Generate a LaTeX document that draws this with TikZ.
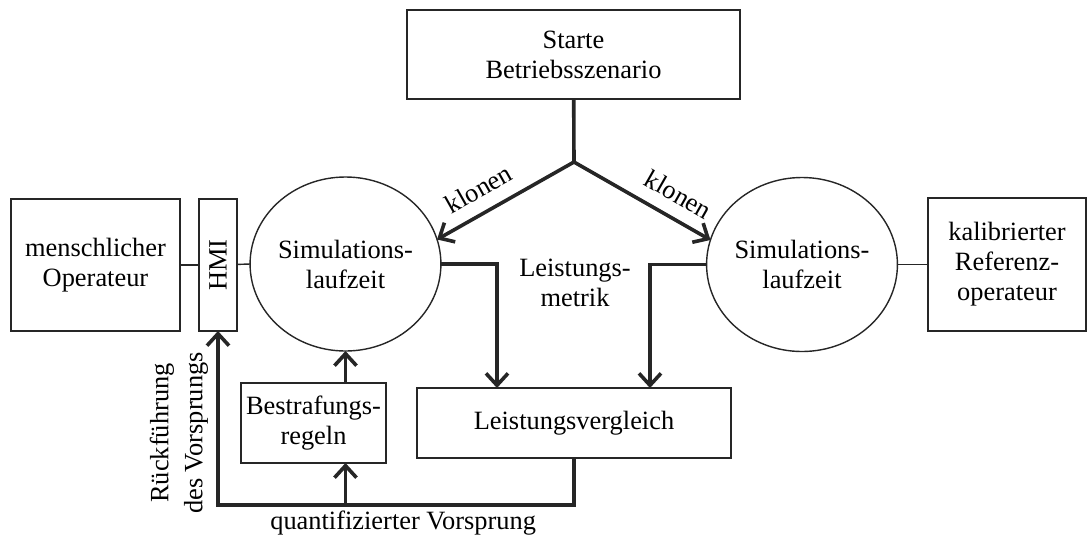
\documentclass[tikz,border=0pt]{standalone}
\usepackage{fontspec}
\setmainfont{Liberation Serif}
\usepackage{graphicx}
\usepackage{tikz}
\usetikzlibrary{arrows.meta,shapes.geometric}

\begin{document}
\begin{tikzpicture}[x=0.5pt,y=-0.5pt,
  font=\fontsize{13.2}{15}\selectfont,
  box/.style={draw=black!85, line width=0.7pt, align=center, inner sep=0pt, outer sep=0pt},
  sim/.style={ellipse, draw=black!85, line width=0.7pt, align=center, inner sep=0pt, outer sep=0pt,
    minimum width=92.5pt, minimum height=87pt},
  link/.style={draw=black!85, line width=0.7pt},
  flow/.style={draw=black!85, line width=1.8pt, -{Straight Barb[length=6pt,width=11pt]}}]

\useasboundingbox (0,0) rectangle (1087,537);

\node[box, minimum width=166.5pt, minimum height=44.5pt] (start) at (573.5,54.5) {Starte\\Betriebsszenario};
\node[box, minimum width=84.5pt, minimum height=66pt] (human) at (95.5,265) {menschlicher\\Operateur};
\node[box, minimum width=19pt, minimum height=66pt] (hmi) at (218,265) {\rotatebox{90}{HMI}};
\node[sim] (simL) at (345.5,264) {Simulations-\\laufzeit};
\node[sim] (simR) at (802,264.5) {Simulations-\\laufzeit};
\node[box, minimum width=79pt, minimum height=66.5pt] (refop) at (1007,264.5) {kalibrierter\\Referenz-\\operateur};
\node[box, minimum width=72.5pt, minimum height=40pt] (penalty) at (313.5,423) {Bestrafungs-\\regeln};
\node[box, minimum width=157pt, minimum height=35pt] (compare) at (574,423) {Leistungsvergleich};
\node[align=center] (metric) at (575,283) {Leistungs-\\metrik};
\node[rotate=90, align=center] (feedback) at (179,433) {R\"uckf\"uhrung\\[2pt]des Vorsprungs};

\coordinate (split) at (574,162);
\coordinate (loop) at (218,505);

% plain links
\draw[link] (human) -- (hmi);
\draw[link] (hmi) -- (simL.west);
\draw[link] (simR) -- (refop);

% cloning
\draw[flow, -] (start) -- (split);
\draw[flow, {Straight Barb[length=6pt,width=11pt]}-] (simL.15) -- node[above=3pt, sloped, pos=0.39] (cloneL) {klonen} (split);
\draw[flow] (split) -- node[above=3pt, sloped, pos=0.68] (cloneR) {klonen} (simR.165);

% metric into comparison
\draw[flow] (simL.east) -| ([xshift=-38.5pt]compare.north);
\draw[flow] (simR.west) -| ([xshift=38pt]compare.north);

% lead feedback
\draw[flow] (compare.south) |- node[below, pos=0.74, inner sep=2pt] (lead) {quantifizierter Vorsprung} (loop) -- (hmi.south);
\draw[flow] (loop -| simL.south) -- (penalty.south -| simL.south);
\draw[flow] (penalty.north -| simL.south) -- (simL.south);

\end{tikzpicture}
\end{document}
